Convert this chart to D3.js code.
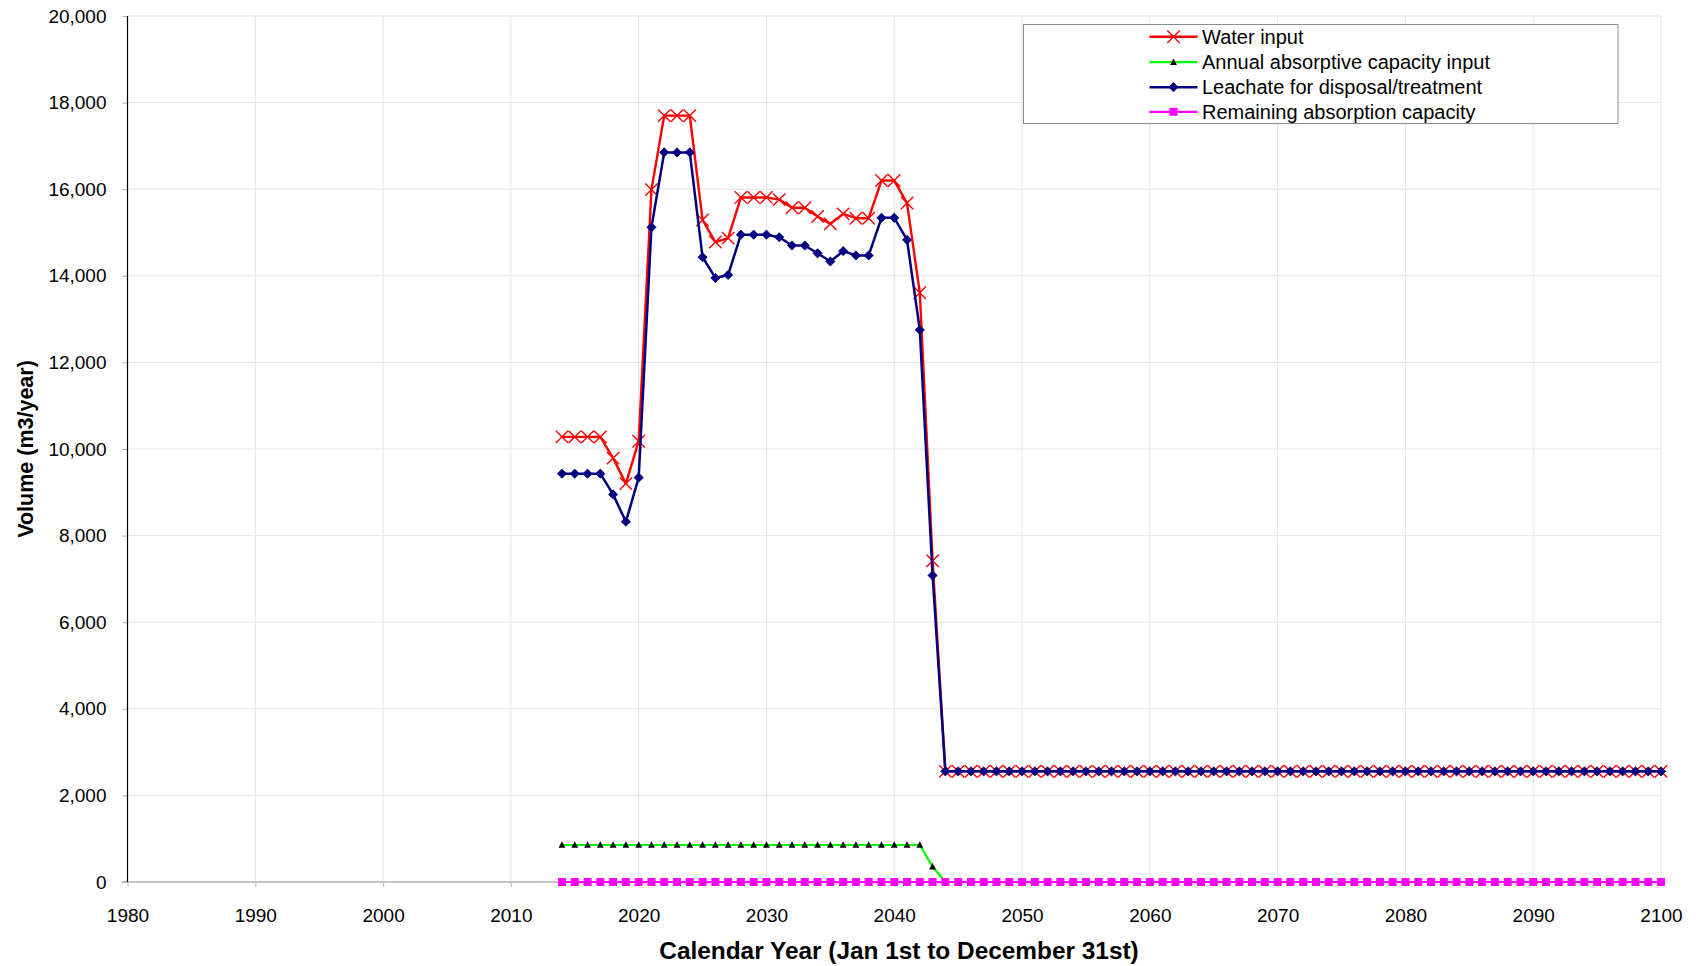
<!DOCTYPE html>
<html>
<head>
<meta charset="utf-8">
<script src="https://cdn.jsdelivr.net/npm/d3@7"></script>
<style>
  html, body { margin: 0; padding: 0; background: #fff; }
  svg { display: block; font-family: "Liberation Sans", Arial, sans-serif; }
</style>
</head>
<body>
<svg id="chart" width="1696" height="966"></svg>
<script>
// Calendar years covered by the landfill water balance
const yearsAll = [
  2014, 2015, 2016, 2017, 2018, 2019, 2020, 2021, 2022, 2023,
  2024, 2025, 2026, 2027, 2028, 2029, 2030, 2031, 2032, 2033,
  2034, 2035, 2036, 2037, 2038, 2039, 2040, 2041, 2042, 2043,
  2044, 2045, 2046, 2047, 2048, 2049, 2050, 2051, 2052, 2053,
  2054, 2055, 2056, 2057, 2058, 2059, 2060, 2061, 2062, 2063,
  2064, 2065, 2066, 2067, 2068, 2069, 2070, 2071, 2072, 2073,
  2074, 2075, 2076, 2077, 2078, 2079, 2080, 2081, 2082, 2083,
  2084, 2085, 2086, 2087, 2088, 2089, 2090, 2091, 2092, 2093,
  2094, 2095, 2096, 2097, 2098, 2099, 2100
];

// Water input (m3/year), 2014-2100
const waterInput = [
  10280, 10280, 10280, 10280, 9790, 9200, 10180, 15990, 17700, 17700,
  17700, 15290, 14780, 14870, 15810, 15810, 15810, 15760, 15570, 15570,
  15370, 15200, 15430, 15330, 15330, 16200, 16200, 15680, 13610, 7420,
  2555, 2555, 2555, 2555, 2555, 2555, 2555, 2555, 2555, 2555,
  2555, 2555, 2555, 2555, 2555, 2555, 2555, 2555, 2555, 2555,
  2555, 2555, 2555, 2555, 2555, 2555, 2555, 2555, 2555, 2555,
  2555, 2555, 2555, 2555, 2555, 2555, 2555, 2555, 2555, 2555,
  2555, 2555, 2555, 2555, 2555, 2555, 2555, 2555, 2555, 2555,
  2555, 2555, 2555, 2555, 2555, 2555, 2555
];

// Annual absorptive capacity input (m3/year), 2014-2044
const absorptiveYears = [
  2014, 2015, 2016, 2017, 2018, 2019, 2020, 2021, 2022, 2023,
  2024, 2025, 2026, 2027, 2028, 2029, 2030, 2031, 2032, 2033,
  2034, 2035, 2036, 2037, 2038, 2039, 2040, 2041, 2042, 2043, 2044
];
const absorptiveInput = [
  855, 855, 855, 855, 855, 855, 855, 855, 855, 855,
  855, 855, 855, 855, 855, 855, 855, 855, 855, 855,
  855, 855, 855, 855, 855, 855, 855, 855, 855, 354, 0
];

// Leachate for disposal/treatment (m3/year), 2014-2100
const leachate = [
  9430, 9430, 9430, 9430, 8950, 8320, 9340, 15120, 16850, 16850,
  16850, 14430, 13950, 14020, 14950, 14950, 14950, 14890, 14700, 14700,
  14520, 14330, 14570, 14470, 14470, 15340, 15340, 14830, 12750, 7080,
  2555, 2555, 2555, 2555, 2555, 2555, 2555, 2555, 2555, 2555,
  2555, 2555, 2555, 2555, 2555, 2555, 2555, 2555, 2555, 2555,
  2555, 2555, 2555, 2555, 2555, 2555, 2555, 2555, 2555, 2555,
  2555, 2555, 2555, 2555, 2555, 2555, 2555, 2555, 2555, 2555,
  2555, 2555, 2555, 2555, 2555, 2555, 2555, 2555, 2555, 2555,
  2555, 2555, 2555, 2555, 2555, 2555, 2555
];

// Remaining absorption capacity (m3/year), 2014-2100
const remainingCapacity = [
  0, 0, 0, 0, 0, 0, 0, 0, 0, 0,
  0, 0, 0, 0, 0, 0, 0, 0, 0, 0,
  0, 0, 0, 0, 0, 0, 0, 0, 0, 0,
  0, 0, 0, 0, 0, 0, 0, 0, 0, 0,
  0, 0, 0, 0, 0, 0, 0, 0, 0, 0,
  0, 0, 0, 0, 0, 0, 0, 0, 0, 0,
  0, 0, 0, 0, 0, 0, 0, 0, 0, 0,
  0, 0, 0, 0, 0, 0, 0, 0, 0, 0,
  0, 0, 0, 0, 0, 0, 0
];

const xTicks = [1980, 1990, 2000, 2010, 2020, 2030, 2040, 2050, 2060, 2070, 2080, 2090, 2100];
const yTicks = [0, 2000, 4000, 6000, 8000, 10000, 12000, 14000, 16000, 18000, 20000];

const seriesNames = [
  "Water input",
  "Annual absorptive capacity input",
  "Leachate for disposal/treatment",
  "Remaining absorption capacity"
];

// ---- layout ----
const plot = { left: 127.5, right: 1661, top: 16, bottom: 882 };

const svg = d3.select("#chart");

const x = d3.scaleLinear().domain([1980, 2100]).range([plot.left, plot.right]);
const y = d3.scaleLinear().domain([0, 20000]).range([plot.bottom, plot.top]);

// gridlines
const grid = svg.append("g").attr("class", "grid");
grid.selectAll("line.h")
  .data(yTicks.filter(d => d > 0))
  .join("line")
  .attr("x1", plot.left).attr("x2", plot.right)
  .attr("y1", d => y(d)).attr("y2", d => y(d))
  .attr("stroke", "#e3e3e3").attr("stroke-width", 1);
grid.selectAll("line.v")
  .data(xTicks.filter(d => d > 1980))
  .join("line")
  .attr("y1", plot.top).attr("y2", plot.bottom)
  .attr("x1", d => x(d)).attr("x2", d => x(d))
  .attr("stroke", "#e3e3e3").attr("stroke-width", 1);

// x axis
const xAxis = svg.append("g")
  .attr("transform", `translate(0,${plot.bottom})`)
  .call(d3.axisBottom(x).tickValues(xTicks).tickFormat(d3.format("d")).tickSize(5).tickPadding(22).tickSizeOuter(0));
xAxis.select(".domain").remove();
xAxis.selectAll(".tick line").attr("stroke", "#c4c4c4").attr("stroke-width", 1.2);
xAxis.selectAll(".tick text").attr("font-size", "19px").attr("fill", "#000")
  .attr("font-family", "Liberation Sans, Arial, sans-serif");
svg.append("line")
  .attr("x1", plot.left - 6).attr("x2", plot.right)
  .attr("y1", plot.bottom).attr("y2", plot.bottom)
  .attr("stroke", "#c4c4c4").attr("stroke-width", 2);

// y axis
const yAxis = svg.append("g")
  .attr("transform", `translate(${plot.left},0)`)
  .call(d3.axisLeft(y).tickValues(yTicks).tickFormat(d3.format(",")).tickSize(5).tickPadding(16).tickSizeOuter(0));
yAxis.select(".domain").remove();
yAxis.selectAll(".tick line").attr("stroke", "#b0b0b0");
yAxis.selectAll(".tick text").attr("font-size", "19px").attr("fill", "#000")
  .attr("font-family", "Liberation Sans, Arial, sans-serif");
svg.append("line")
  .attr("x1", plot.left).attr("x2", plot.left)
  .attr("y1", plot.top).attr("y2", plot.bottom)
  .attr("stroke", "#000").attr("stroke-width", 1.2);

// axis titles
svg.append("text")
  .attr("transform", `translate(32.5,${(plot.top + plot.bottom) / 2}) rotate(-90)`)
  .attr("text-anchor", "middle")
  .attr("font-size", "21.5px").attr("font-weight", "bold")
  .text("Volume (m3/year)");
svg.append("text")
  .attr("x", 899).attr("y", 958.5)
  .attr("text-anchor", "middle")
  .attr("font-size", "24.4px").attr("font-weight", "bold")
  .text("Calendar Year (Jan 1st to December 31st)");

// ---- marker shapes ----
const markers = {
  cross: g => g.append("path").attr("d", "M-6.2,-6.2L6.2,6.2M6.2,-6.2L-6.2,6.2")
    .attr("stroke", "#ff0000").attr("stroke-width", 1.4).attr("fill", "none"),
  triangle: g => g.append("path").attr("d", "M0,-3.8L3.4,2.8L-3.4,2.8Z").attr("fill", "#000"),
  diamond: g => g.append("path").attr("d", "M0,-4.6L4.6,0L0,4.6L-4.6,0Z")
    .attr("fill", "#000080").attr("stroke", "#000080").attr("stroke-width", 0.8),
  square: g => g.append("rect").attr("x", -4).attr("y", -4).attr("width", 8).attr("height", 8).attr("fill", "#ff00ff")
};

const series = [
  { name: seriesNames[0], years: yearsAll, values: waterInput, color: "#ff0000", width: 2.4, marker: markers.cross },
  { name: seriesNames[1], years: absorptiveYears, values: absorptiveInput, color: "#00ff00", width: 2.2, marker: markers.triangle },
  { name: seriesNames[2], years: yearsAll, values: leachate, color: "#000080", width: 2.5, marker: markers.diamond },
  { name: seriesNames[3], years: yearsAll, values: remainingCapacity, color: "#ff00ff", width: 2.2, marker: markers.square }
];

const line = d3.line().x(d => x(d[0])).y(d => y(d[1]));

series.forEach(s => {
  const pts = s.years.map((yr, i) => [yr, s.values[i]]);
  const g = svg.append("g");
  g.append("path")
    .datum(pts)
    .attr("d", line)
    .attr("fill", "none")
    .attr("stroke", s.color)
    .attr("stroke-width", s.width)
    .attr("stroke-linejoin", "round");
  g.selectAll("g.pt")
    .data(pts)
    .join("g")
    .attr("transform", d => `translate(${x(d[0])},${y(d[1])})`)
    .each(function () { s.marker(d3.select(this)); });
});

// ---- legend ----
const legend = svg.append("g");
legend.append("rect")
  .attr("x", 1023.5).attr("y", 24.5).attr("width", 594.5).attr("height", 99)
  .attr("fill", "#fff").attr("stroke", "#8c8c8c").attr("stroke-width", 1);
const rowY = [36.8, 62.2, 87.2, 111.8];
series.forEach((s, i) => {
  const row = legend.append("g").attr("transform", `translate(0,${rowY[i]})`);
  row.append("line")
    .attr("x1", 1149.5).attr("x2", 1197.5)
    .attr("y1", 0).attr("y2", 0)
    .attr("stroke", s.color).attr("stroke-width", s.width);
  s.marker(row.append("g").attr("transform", "translate(1173.5,0)"));
  row.append("text")
    .attr("x", 1202).attr("y", 0).attr("dy", "0.36em")
    .attr("font-size", "20px").attr("fill", "#000")
    .text(s.name);
});
</script>
</body>
</html>
